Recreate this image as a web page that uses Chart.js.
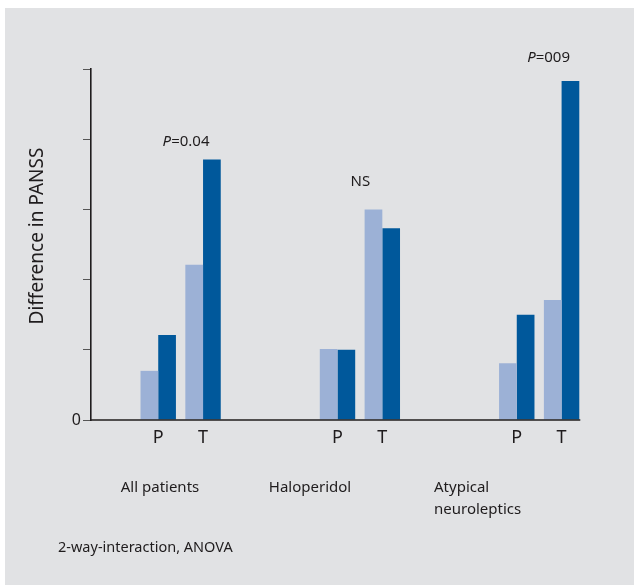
<!DOCTYPE html>
<html>
<head>
<meta charset="utf-8">
<script src="https://cdn.jsdelivr.net/npm/chart.js@4"></script>
<style>
  html, body { margin: 0; padding: 0; background: #ffffff; }
  #wrap { position: absolute; left: 5px; top: 8px; width: 629px; height: 577px; background: #e1e2e4; }
  canvas { display: block; }
</style>
</head>
<body>
<div id="wrap"><canvas id="c" width="629" height="577"></canvas></div>
<script>
// ---- data ----
const groups = ['All patients', 'Haloperidol', 'Atypical neuroleptics'];
const conditions = ['P', 'T'];
const lightP = [0.70, 1.01, 0.81];
const lightT = [2.21, 3.00, 1.71];
const darkP = [1.21, 1.00, 1.50];
const darkT = [3.71, 2.73, 4.83];
const pLabels = ['P=0.04', 'NS', 'P=009'];
const pLabelLevels = [3.96, 3.40, 5.16];
const yTicks = [0, 1, 2, 3, 4, 5];
const footnote = '2-way-interaction, ANOVA';
const yTitle = 'Difference in PANSS';

// Build category slots: blank spacer(s), P, T per group
const slots = [];
const lightData = [];
const darkData = [];
const slotOfT = [];
groups.forEach((g, gi) => {
  const spacers = gi === 0 ? 1 : 2;
  for (let s = 0; s < spacers; s++) { slots.push(''); lightData.push(null); darkData.push(null); }
  slots.push(conditions[0]); lightData.push(lightP[gi]); darkData.push(darkP[gi]);
  slots.push(conditions[1]); lightData.push(lightT[gi]); darkData.push(darkT[gi]); slotOfT.push(slots.length - 1);
});

const FONT = "'Noto Sans', 'Open Sans', sans-serif";
const INK = '#1f1c1d';

const textPlugin = {
  id: 'texts',
  afterDatasetsDraw(chart) {
    // x axis baseline, ending at the last bar's right edge
    const ctx = chart.ctx;
    const meta = chart.getDatasetMeta(1);
    const last = meta.data[meta.data.length - 1];
    const y0 = chart.scales.y.getPixelForValue(0);
    ctx.save();
    ctx.strokeStyle = INK;
    ctx.lineWidth = 1.6;
    ctx.beginPath();
    ctx.moveTo(chart.chartArea.left, y0);
    ctx.lineTo(last.x + last.width / 2 + 1, y0);
    ctx.stroke();
    ctx.restore();
  },
  afterDraw(chart) {
    const ctx = chart.ctx;
    const x = chart.scales.x, y = chart.scales.y;
    const L = chart.chartArea.left;
    ctx.save();
    ctx.fillStyle = INK;
    ctx.textBaseline = 'middle';
    // significance labels
    const pOffsets = [-17, -22, -13];
    pLabels.forEach((t, i) => {
      const cx = x.getPixelForValue(slotOfT[i]) + pOffsets[i];
      const cy = y.getPixelForValue(pLabelLevels[i]);
      ctx.font = '15px ' + FONT;
      if (t.startsWith('P=')) {
        ctx.font = 'italic 15px ' + FONT;
        const wP = ctx.measureText('P').width;
        ctx.font = '15px ' + FONT;
        const rest = t.slice(1);
        const wR = ctx.measureText(rest).width;
        const start = cx - (wP + wR) / 2;
        ctx.textAlign = 'left';
        ctx.font = 'italic 15px ' + FONT;
        ctx.fillText('P', start, cy);
        ctx.font = '15px ' + FONT;
        ctx.fillText(rest, start + wP, cy);
      } else {
        ctx.textAlign = 'center';
        ctx.fillText(t, cx, cy);
      }
    });
    // group labels
    ctx.font = '15px ' + FONT;
    const gy = 480;
    ctx.textAlign = 'center';
    ctx.fillText(groups[0], L + 69, gy);
    ctx.fillText(groups[1], L + 219, gy);
    ctx.textAlign = 'left';
    const parts = groups[2].split(' ');
    ctx.fillText(parts[0], L + 343, gy);
    ctx.fillText(parts[1], L + 343, gy + 22);
    // footnote
    ctx.font = '14.5px ' + FONT;
    ctx.fillText(footnote, 53, 540);
    // y title
    ctx.translate(33, 228);
    ctx.rotate(-Math.PI / 2);
    ctx.textAlign = 'center';
    ctx.font = '19px ' + FONT;
    ctx.fillText(yTitle, 0, 0);
    ctx.restore();
  }
};

new Chart(document.getElementById('c'), {
  type: 'bar',
  data: {
    labels: slots,
    datasets: [
      { label: 'light', data: lightData, backgroundColor: '#9cb1d6', borderWidth: 0 },
      { label: 'dark', data: darkData, backgroundColor: '#00589b', borderWidth: 0 }
    ]
  },
  options: {
    responsive: false,
    animation: false,
    devicePixelRatio: 1,
    layout: { padding: { left: 0, right: 50, top: 61, bottom: 135 } },
    plugins: { legend: { display: false }, tooltip: { enabled: false } },
    datasets: { bar: { categoryPercentage: 0.79, barPercentage: 1.0, skipNull: false } },
    scales: {
      x: {
        type: 'category',
        offset: true,
        grid: { display: false, drawTicks: false },
        border: { display: false },
        ticks: { color: INK, font: { family: FONT, size: 18 }, padding: 7, autoSkip: false, maxRotation: 0 },
        afterFit(s) { s.height = 30; }
      },
      y: {
        min: 0, max: 5,
        afterBuildTicks(s) { s.ticks = yTicks.map(v => ({ value: v })); },
        grid: { drawOnChartArea: false, drawTicks: true, tickLength: 8, color: INK, tickColor: '#555', lineWidth: 1 },
        border: { display: true, color: INK, width: 1.6 },
        ticks: { color: INK, font: { family: FONT, size: 16 }, padding: 2,
          callback: (v) => v === 0 ? '0' : '' },
        afterFit(s) { s.width = 86; }
      }
    }
  },
  plugins: [textPlugin]
});
</script>
</body>
</html>
